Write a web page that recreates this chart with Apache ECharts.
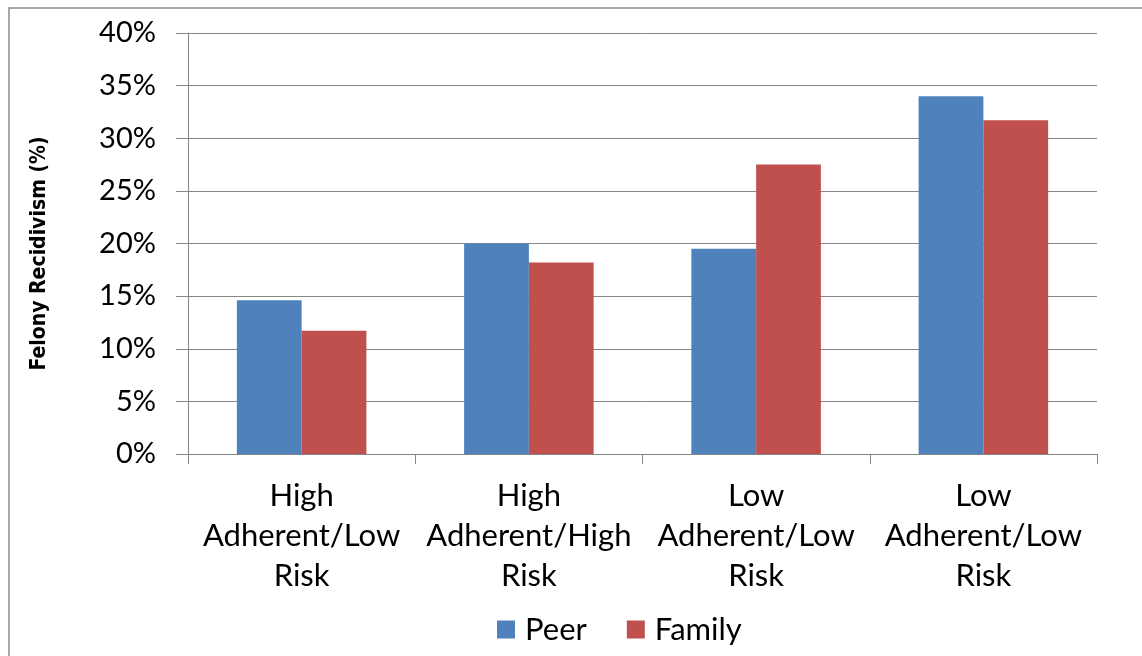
<!DOCTYPE html>
<html>
<head>
<meta charset="utf-8">
<script src="https://cdn.jsdelivr.net/npm/echarts@6/dist/echarts.min.js"></script>
<style>
html,body{margin:0;padding:0;background:#fff;}
#chart{width:1142px;height:656px;}
</style>
</head>
<body>
<div id="chart"></div>
<script>
const categories = ['High\nAdherent/Low\nRisk', 'High\nAdherent/High\nRisk', 'Low\nAdherent/Low\nRisk', 'Low\nAdherent/Low\nRisk'];
const peerValues = [14.6, 20.0, 19.5, 34.0];
const familyValues = [11.7, 18.2, 27.5, 31.7];
const seriesNames = ['Peer', 'Family'];
const yAxisTitle = 'Felony Recidivism (%)';

const chart = echarts.init(document.getElementById('chart'), null, {renderer: 'canvas'});
const font = 'Lato';
const option = {
  backgroundColor: '#fff',
  animation: false,
  graphic: [{
    type: 'rect',
    shape: {x: 9, y: 8, width: 1200, height: 700},
    style: {fill: 'none', stroke: '#8c8c8c', lineWidth: 1.5},
    silent: true
  }],
  grid: {left: 188, right: 45, top: 33, bottom: 202, containLabel: false},
  legend: {
    data: seriesNames,
    bottom: 6,
    left: 492,
    itemWidth: 18,
    itemHeight: 18,
    itemGap: 40,
    icon: 'rect',
    textStyle: {fontFamily: font, fontSize: 31, color: '#000', padding: [0, 0, 0, 5]}
  },
  xAxis: {
    type: 'category',
    data: categories,
    axisLine: {lineStyle: {color: '#868686', width: 1}},
    axisTick: {show: true, length: 10, alignWithLabel: false, lineStyle: {color: '#868686'}},
    axisLabel: {fontFamily: font, fontSize: 31, color: '#000', lineHeight: 40, margin: 22, interval: 0}
  },
  yAxis: {
    type: 'value',
    min: 0, max: 40, interval: 5,
    name: yAxisTitle,
    nameLocation: 'middle',
    nameGap: 138,
    nameTextStyle: {fontFamily: 'DejaVu Sans Condensed, Liberation Sans', fontWeight: 'bold', fontSize: 21, color: '#000', padding: [0, 20, 0, 0]},
    axisLine: {show: true, lineStyle: {color: '#868686', width: 1}},
    axisTick: {show: true, length: 12, inside: false, lineStyle: {color: '#868686'}},
    axisLabel: {fontFamily: font, fontSize: 29, color: '#000', margin: 32, formatter: '{value}%'},
    splitLine: {show: true, lineStyle: {color: '#868686', width: 1}}
  },
  series: [
    {name: seriesNames[0], type: 'bar', data: peerValues, barGap: '0%', barCategoryGap: '43%',
     itemStyle: {color: '#4F81BD'}},
    {name: seriesNames[1], type: 'bar', data: familyValues, barGap: '0%', barCategoryGap: '43%',
     itemStyle: {color: '#C0504D'}}
  ]
};
chart.setOption(option);
</script>
</body>
</html>
